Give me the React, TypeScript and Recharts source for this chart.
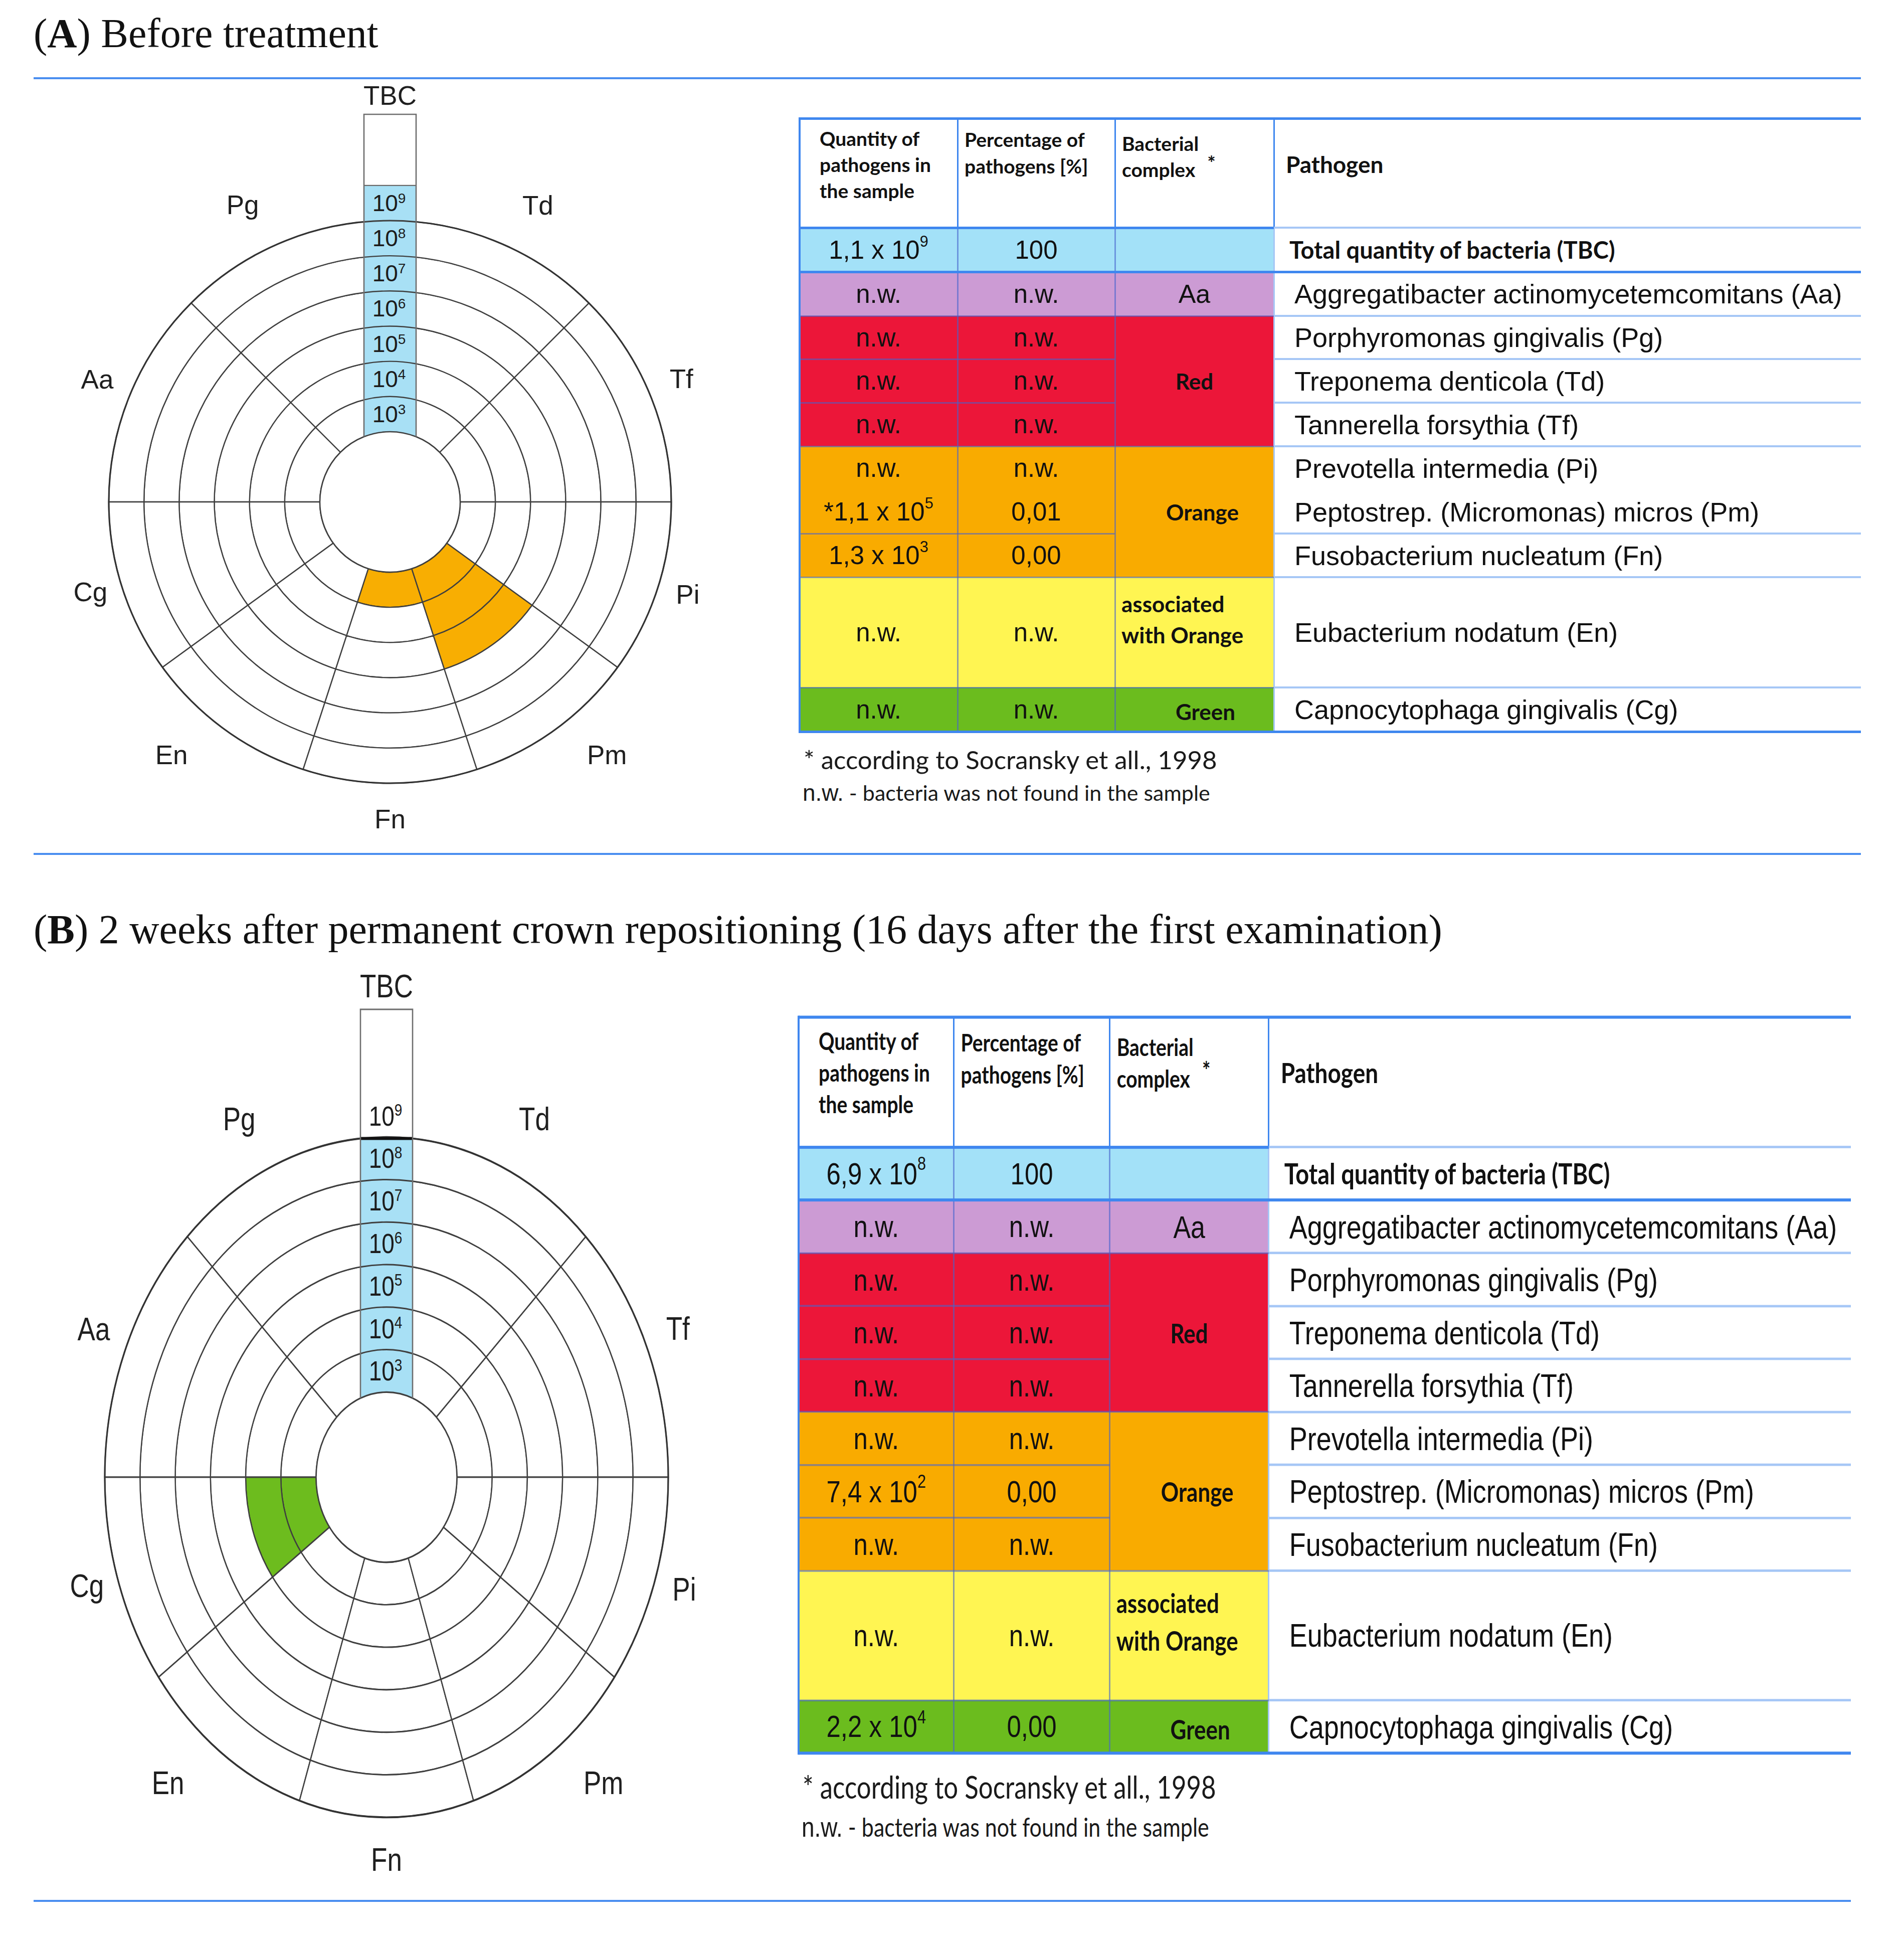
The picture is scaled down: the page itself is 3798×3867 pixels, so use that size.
import React from 'react';
import { PieChart, Pie, Cell } from 'recharts';

// ---------------- data ----------------
// polar sectors, counter-clockwise from 3 o'clock
const SECTORS = ['Tf', 'Td', 'Pg', 'Aa', 'Cg', 'En', 'Fn', 'Pm', 'Pi'];
const SECTOR_SPAN_DEG = [45, 45, 45, 45, 36, 36, 36, 36, 36];
const SECTOR_COMPLEX = ['Red', 'Red', 'Red', 'Aa', 'Green', 'Yellow', 'Orange', 'Orange', 'Orange'];
const BAND_EXPONENTS = [3, 4, 5, 6, 7, 8];
const TBC_EXPONENTS = [3, 4, 5, 6, 7, 8, 9];
// number of filled log-bands per sector (10^3 .. 10^8)
const LEVELS_A = [0, 0, 0, 0, 0, 0, 1, 3, 0];
const LEVELS_B = [0, 0, 0, 0, 2, 0, 0, 0, 0];
const TBC_LEVEL_A = 7;
const TBC_LEVEL_B = 6;

// table
const ROW_COMPLEX = ['TBC', 'Aa', 'Red', 'Red', 'Red', 'Orange', 'Orange', 'Orange', 'Yellow', 'Green'];
const PATHOGEN_NAMES = [
  'Total quantity of bacteria (TBC)',
  'Aggregatibacter actinomycetemcomitans (Aa)',
  'Porphyromonas gingivalis (Pg)',
  'Treponema denticola (Td)',
  'Tannerella forsythia (Tf)',
  'Prevotella intermedia (Pi)',
  'Peptostrep. (Micromonas) micros (Pm)',
  'Fusobacterium nucleatum (Fn)',
  'Eubacterium nodatum (En)',
  'Capnocytophaga gingivalis (Cg)',
];
const QTY_A = ['1,1 x 10^9', 'n.w.', 'n.w.', 'n.w.', 'n.w.', 'n.w.', '*1,1 x 10^5', '1,3 x 10^3', 'n.w.', 'n.w.'];
const PCT_A = ['100', 'n.w.', 'n.w.', 'n.w.', 'n.w.', 'n.w.', '0,01', '0,00', 'n.w.', 'n.w.'];
const QTY_B = ['6,9 x 10^8', 'n.w.', 'n.w.', 'n.w.', 'n.w.', 'n.w.', '7,4 x 10^2', 'n.w.', 'n.w.', '2,2 x 10^4'];
const PCT_B = ['100', 'n.w.', 'n.w.', 'n.w.', 'n.w.', 'n.w.', '0,00', 'n.w.', 'n.w.', '0,00'];
const COMPLEX_GROUPS = [
  { label: '', from: 0, to: 0, key: 'TBC' },
  { label: 'Aa', from: 1, to: 1, key: 'Aa' },
  { label: 'Red', from: 2, to: 4, key: 'Red' },
  { label: 'Orange', from: 5, to: 7, key: 'Orange' },
  { label: 'associated|with Orange', from: 8, to: 8, key: 'Yellow' },
  { label: 'Green', from: 9, to: 9, key: 'Green' },
];
const HEADER_QTY = ['Quantity of', 'pathogens in', 'the sample'];
const HEADER_PCT = ['Percentage of', 'pathogens [%]'];
const HEADER_CPLX = ['Bacterial', 'complex'];
const HEADER_PATH = 'Pathogen';
const FOOTNOTE_1 = '* according to Socransky et all., 1998';
const FOOTNOTE_2A = 'n.w.';
const FOOTNOTE_2B = ' - bacteria was not found in the sample';
const TITLE_A = ['A', ' Before treatment'];
const TITLE_B = ['B', ' 2 weeks after permanent crown repositioning (16 days after the first examination)'];

// ---------------- styles ----------------
const CELL_COLORS: Record<string, string> = {
  TBC: '#a3e1f8', Aa: '#cc9bd4', Red: '#ec1639', Orange: '#f9ab00', Yellow: '#fff552', Green: '#6bbc1e',
};
const POLAR_FILL: Record<string, string> = {
  TBC: '#a8e0f5', Aa: '#cc9bd4', Red: '#ec1639', Orange: '#f8ae02', Yellow: '#fff552', Green: '#6dbc1e',
};
const SANS = '"Liberation Sans", Arial, sans-serif';
const CAL = 'Lato, "Open Sans", sans-serif';
const SERIF = '"Liberation Serif", "Times New Roman", serif';
const SECTION_BLUE = '#4a8ef0';
const TABLE_BLUE = '#3f87ef';
const TABLE_LIGHT = '#a6c7f6';
const INNER_LINE = 'rgba(70,100,205,0.6)';
const GRID = '#3f3f3f';
const NO_MARGIN = { top: 0, right: 0, bottom: 0, left: 0 };

const CHART_W = 1560;
const CHART_H = 1700;
const COL_HALF = 52;
const COL_TOP_DY = 773;
const TBC_LABEL_DY = 811;
const LABEL_LAYOUT: Record<string, [number, number]> = {
  Tf: [22.9, 631], Td: [63.5, 661], Pg: [116.4, 661], Aa: [157.3, 633], Cg: [196.7, 624],
  En: [229.2, 667], Fn: [270, 632], Pm: [310.6, 665], Pi: [342.7, 622],
};

// ---------------- polar chart ----------------
function TbcColumn({ cx, cy, r0, band, R, tbcLevel, thickTop }: any) {
  const h = COL_HALF;
  const topY = cy - COL_TOP_DY;
  const arcY = (r: number) => cy - Math.sqrt(r * r - h * h);
  const cell9Top = cy - (R + band);
  let fillPath: string;
  let topPath: string;
  if (tbcLevel >= TBC_EXPONENTS.length) {
    fillPath = `M ${cx - h} ${cy} L ${cx - h} ${cell9Top} L ${cx + h} ${cell9Top} L ${cx + h} ${cy} Z`;
    topPath = `M ${cx - h} ${cell9Top} L ${cx + h} ${cell9Top}`;
  } else {
    const r = r0 + band * tbcLevel;
    const y = arcY(r);
    fillPath = `M ${cx - h} ${cy} L ${cx - h} ${y} A ${r} ${r} 0 0 1 ${cx + h} ${y} L ${cx + h} ${cy} Z`;
    topPath = `M ${cx - h - 1} ${y} L ${cx + h + 1} ${y}`;
  }
  const rings = BAND_EXPONENTS.map((_, i) => r0 + band * (i + 1));
  const innerY = arcY(r0);
  return (
    <g>
      <circle cx={cx} cy={cy} r={R} fill="none" stroke="#333" strokeWidth={3.2} />
      <rect x={cx - h} y={topY} width={2 * h} height={cy - topY} fill="#ffffff" />
      <path d={fillPath} fill={POLAR_FILL.TBC} />
      <circle cx={cx} cy={cy} r={r0} fill="#ffffff" stroke={GRID} strokeWidth={2.6} />
      {rings.map((r, i) => (
        <path key={i} d={`M ${cx - h} ${arcY(r)} A ${r} ${r} 0 0 1 ${cx + h} ${arcY(r)}`} fill="none" stroke={GRID} strokeWidth={i === rings.length - 1 ? 3 : 2.4} />
      ))}
      <path d={topPath} fill="none" stroke={thickTop ? '#111' : '#6a6a6a'} strokeWidth={thickTop ? 5 : 2.4} />
      <path d={`M ${cx - h} ${innerY} L ${cx - h} ${topY} L ${cx + h} ${topY} L ${cx + h} ${innerY}`} fill="none" stroke="#6e6e6e" strokeWidth={2.6} />
      {TBC_EXPONENTS.map((e, k) => {
        const yc = cy - (r0 + band * (k + 0.5));
        return (
          <text key={e} x={cx - 2} y={yc + 16} textAnchor="middle" style={{ fontFamily: SANS, fontSize: 46, fill: '#1c1c1c' }}>
            10<tspan fontSize={28} dy={-16}>{e}</tspan>
          </text>
        );
      })}
      <text x={cx} y={cy - TBC_LABEL_DY} textAnchor="middle" dominantBaseline="central" style={{ fontFamily: SANS, fontSize: 53, fill: '#1f1f1f' }}>TBC</text>
    </g>
  );
}

function Polar({ cx, cy, r0, R, levels, tbcLevel, thickTop }: any) {
  const band = (R - r0) / BAND_EXPONENTS.length;
  const data = SECTORS.map((name, k) => ({ name, span: SECTOR_SPAN_DEG[k], level: levels[k], complex: SECTOR_COMPLEX[k] }));
  const tbcData = [{ name: 'TBC', value: 1, level: tbcLevel }];
  const renderLabel = (p: any) => {
    const name = data[p.index].name;
    const [a, r] = LABEL_LAYOUT[name];
    const rad = (a * Math.PI) / 180;
    return (
      <text key={name} x={cx + r * Math.cos(rad)} y={cy - r * Math.sin(rad)} textAnchor="middle" dominantBaseline="central" style={{ fontFamily: SANS, fontSize: 53, fill: '#1f1f1f' }}>
        {name}
      </text>
    );
  };
  const renderColumn = (p: any) => (
    <TbcColumn key="tbc" cx={cx} cy={cy} r0={r0} band={band} R={R} tbcLevel={tbcData[p.index].level} thickTop={thickTop} />
  );
  return (
    <PieChart width={CHART_W} height={CHART_H} margin={NO_MARGIN}>
      {BAND_EXPONENTS.map((exp, i) => (
        <Pie
          key={exp}
          data={data}
          dataKey="span"
          nameKey="name"
          cx={cx}
          cy={cy}
          innerRadius={r0 + band * i}
          outerRadius={r0 + band * (i + 1)}
          startAngle={0}
          endAngle={360}
          paddingAngle={0}
          stroke={GRID}
          strokeWidth={2.4}
          isAnimationActive={false}
          labelLine={false}
          label={i === BAND_EXPONENTS.length - 1 ? renderLabel : false}
        >
          {data.map((d) => (
            <Cell key={d.name} fill={d.level > i ? POLAR_FILL[d.complex] : '#ffffff'} stroke={GRID} />
          ))}
        </Pie>
      ))}
      <Pie
        data={tbcData}
        dataKey="value"
        nameKey="name"
        cx={cx}
        cy={cy}
        innerRadius={0}
        outerRadius={1}
        startAngle={90}
        endAngle={450}
        fill="none"
        stroke="none"
        isAnimationActive={false}
        labelLine={false}
        label={renderColumn}
      />
    </PieChart>
  );
}

// ---------------- table ----------------
function Sup({ text }: { text: string }) {
  const [base, exp] = text.split('^');
  return (
    <>
      {base}
      {exp !== undefined && <span style={{ fontSize: '0.6em', position: 'relative', top: '-0.55em' }}>{exp}</span>}
    </>
  );
}

function Box({ x, y, w, h, bg, children, style }: any) {
  return (
    <div style={{ position: 'absolute', left: x, top: y, width: w, height: h, background: bg, display: 'flex', alignItems: 'center', justifyContent: 'center', ...style }}>
      {children}
    </div>
  );
}

function Line({ x, y, w, h, c }: any) {
  return <div style={{ position: 'absolute', left: x, top: y, width: w, height: h, background: c }} />;
}

function DataTable({ geom, qty, pct }: any) {
  const { colX, headerH, rowH, joinPiPm } = geom;
  const rowTop: number[] = [];
  let yy = headerH;
  rowH.forEach((h: number) => { rowTop.push(yy); yy += h; });
  const bottom = yy;
  const W = colX[4];
  const body: React.CSSProperties = { fontFamily: SANS, fontSize: 51, color: '#111', lineHeight: 1, whiteSpace: 'nowrap' };
  const bold: React.CSSProperties = { fontFamily: CAL, fontWeight: 700, color: '#111', lineHeight: 1, whiteSpace: 'nowrap' };
  const els: React.ReactNode[] = [];

  ROW_COMPLEX.forEach((cx, r) => {
    const bg = CELL_COLORS[cx];
    els.push(<Box key={`q${r}`} x={colX[0]} y={rowTop[r]} w={colX[1] - colX[0]} h={rowH[r]} bg={bg} style={body}><Sup text={qty[r]} /></Box>);
    els.push(<Box key={`p${r}`} x={colX[1]} y={rowTop[r]} w={colX[2] - colX[1]} h={rowH[r]} bg={bg} style={body}>{pct[r]}</Box>);
    els.push(
      <Box key={`n${r}`} x={colX[3]} y={rowTop[r]} w={W - colX[3]} h={rowH[r]} bg="#fff"
        style={r === 0 ? { ...bold, fontSize: 47, justifyContent: 'flex-start', paddingLeft: 31, boxSizing: 'border-box' } : { ...body, fontSize: 54, justifyContent: 'flex-start', paddingLeft: 41, boxSizing: 'border-box' }}>
        {PATHOGEN_NAMES[r]}
      </Box>
    );
  });
  COMPLEX_GROUPS.forEach((g) => {
    const y0 = rowTop[g.from];
    const y1 = rowTop[g.to] + rowH[g.to];
    let st: React.CSSProperties = { ...bold, fontSize: 44 };
    let content: React.ReactNode = g.label;
    if (g.key === 'Aa') st = { ...body, fontSize: 52 };
    if (g.key === 'Orange') st = { ...st, paddingLeft: 32, boxSizing: 'border-box' };
    if (g.key === 'Green') st = { ...st, paddingLeft: 44, paddingTop: 8, boxSizing: 'border-box' };
    if (g.key === 'Yellow') {
      st = { ...st, alignItems: 'flex-start', justifyContent: 'flex-start', paddingLeft: 13, paddingTop: 22, boxSizing: 'border-box', lineHeight: '62px' };
      content = <div>{g.label.split('|').map((s) => <div key={s}>{s}</div>)}</div>;
    }
    els.push(<Box key={`g${g.key}`} x={colX[2]} y={y0} w={colX[3] - colX[2]} h={y1 - y0} bg={CELL_COLORS[g.key]} style={st}>{content}</Box>);
  });

  // header texts
  const hdr: React.CSSProperties = { position: 'absolute', fontFamily: CAL, fontWeight: 700, fontSize: 39, lineHeight: '52px', color: '#111', whiteSpace: 'nowrap' };
  els.push(<div key="h1" style={{ ...hdr, left: colX[0] + 40, top: 14 }}>{HEADER_QTY.map((s) => <div key={s}>{s}</div>)}</div>);
  els.push(<div key="h2" style={{ ...hdr, left: colX[1] + 14, top: 16, lineHeight: '53px' }}>{HEADER_PCT.map((s) => <div key={s}>{s}</div>)}</div>);
  els.push(
    <div key="h3" style={{ ...hdr, left: colX[2] + 14, top: 24 }}>
      <div>{HEADER_CPLX[0]}</div>
      <div>{HEADER_CPLX[1]}<span style={{ position: 'relative', top: -14, marginLeft: 24 }}>*</span></div>
    </div>
  );
  els.push(<div key="h4" style={{ ...hdr, left: colX[3] + 24, top: 62, fontSize: 46, lineHeight: '60px' }}>{HEADER_PATH}</div>);

  // vertical separators
  [1, 2, 3].forEach((k) => {
    els.push(<Line key={`vh${k}`} x={colX[k] - 1.5} y={0} w={3} h={headerH} c={TABLE_BLUE} />);
    els.push(<Line key={`vb${k}`} x={colX[k] - 1.5} y={headerH} w={3} h={bottom - headerH} c={k === 3 ? TABLE_LIGHT : INNER_LINE} />);
  });
  // horizontal separators
  for (let r = 1; r < rowH.length; r++) {
    const y = rowTop[r];
    if (r === 1) {
      els.push(<Line key={`hr${r}`} x={0} y={y - 2.5} w={W} h={5} c={TABLE_BLUE} />);
      continue;
    }
    const groupEdge = COMPLEX_GROUPS.some((g) => g.from === r);
    const skip = joinPiPm && r === 6;
    if (!skip) {
      els.push(<Line key={`h12${r}`} x={0} y={y - 1.5} w={colX[2]} h={3} c={INNER_LINE} />);
      els.push(<Line key={`h4${r}`} x={colX[3]} y={y - 2} w={W - colX[3]} h={4} c={TABLE_LIGHT} />);
    }
    if (groupEdge) els.push(<Line key={`h3${r}`} x={colX[2]} y={y - 1.5} w={colX[3] - colX[2]} h={3} c={INNER_LINE} />);
  }
  // header bottom
  els.push(<Line key="hb" x={0} y={headerH - 2.5} w={colX[3]} h={5} c={TABLE_BLUE} />);
  els.push(<Line key="hb4" x={colX[3]} y={headerH - 2} w={W - colX[3]} h={4} c={TABLE_LIGHT} />);
  // borders
  els.push(<Line key="top" x={0} y={-2.5} w={W} h={5} c={TABLE_BLUE} />);
  els.push(<Line key="left" x={-2} y={-2.5} w={4} h={bottom + 5} c={TABLE_BLUE} />);
  els.push(<Line key="bot" x={0} y={bottom - 2.5} w={W} h={5} c={TABLE_BLUE} />);

  // footnotes
  els.push(
    <div key="f1" style={{ position: 'absolute', left: 8, top: bottom + 56 - 30, fontFamily: CAL, fontSize: 51, lineHeight: '60px', color: '#1a1a1a', whiteSpace: 'nowrap' }}>{FOOTNOTE_1}</div>
  );
  els.push(
    <div key="f2" style={{ position: 'absolute', left: 6, top: bottom + 122 - 26, lineHeight: '52px', color: '#1a1a1a', whiteSpace: 'nowrap' }}>
      <span style={{ fontFamily: SANS, fontSize: 46 }}>{FOOTNOTE_2A}</span>
      <span style={{ fontFamily: CAL, fontSize: 43 }}>{FOOTNOTE_2B}</span>
    </div>
  );
  return <>{els}</>;
}

const GEOM_A = {
  colX: [0, 315, 629, 946, 2117],
  headerH: 218,
  rowH: [88, 88, 86, 87, 87, 87, 87, 87, 220, 88],
  joinPiPm: true,
};
const GEOM_B = {
  colX: [0, 309.5, 620.7, 937.7, 2099],
  headerH: 215.4,
  rowH: [87.5, 87.5, 87.5, 87.5, 87.5, 87.5, 87.5, 87.5, 213.7, 87.8],
  joinPiPm: false,
};
const B_STRETCH = 1.207;

function Title({ parts, top }: { parts: string[]; top: number }) {
  return (
    <div style={{ position: 'absolute', left: 67, top, fontFamily: SERIF, fontSize: 82, lineHeight: '82px', color: '#111', whiteSpace: 'nowrap' }}>
      (<b>{parts[0]}</b>){parts[1]}
    </div>
  );
}

export default function App() {
  return (
    <div style={{ position: 'absolute', left: 0, top: 0, width: 3798, height: 3867, background: '#ffffff', overflow: 'hidden' }}>
      <Title parts={TITLE_A} top={26} />
      <Line x={67} y={154} w={3645} h={4} c={SECTION_BLUE} />
      <div style={{ position: 'absolute', left: 0, top: 0 }}>
        <Polar cx={778} cy={1001} r0={140} R={561} levels={LEVELS_A} tbcLevel={TBC_LEVEL_A} thickTop={false} />
      </div>
      <div style={{ position: 'absolute', left: 1595, top: 236, width: 2117, height: 1400 }}>
        <DataTable geom={GEOM_A} qty={QTY_A} pct={PCT_A} />
      </div>
      <Line x={67} y={1701} w={3645} h={4} c={SECTION_BLUE} />

      <Title parts={TITLE_B} top={1813} />
      <div style={{ position: 'absolute', left: 0, top: 1944.5, transform: `scaleY(${B_STRETCH})`, transformOrigin: '771px 1001px' }}>
        <Polar cx={771} cy={1001} r0={140.5} R={562} levels={LEVELS_B} tbcLevel={TBC_LEVEL_B} thickTop={true} />
      </div>
      <div style={{ position: 'absolute', left: 1593, top: 2028, width: 2099, height: 1400, transform: `scaleY(${B_STRETCH})`, transformOrigin: 'top left' }}>
        <DataTable geom={GEOM_B} qty={QTY_B} pct={PCT_B} />
      </div>
      <Line x={67} y={3789} w={3625} h={4} c={SECTION_BLUE} />
    </div>
  );
}
